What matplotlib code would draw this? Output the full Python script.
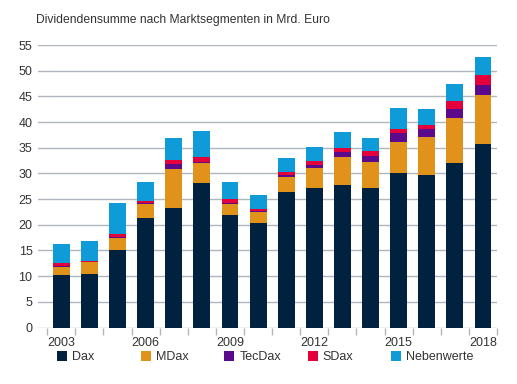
import matplotlib.pyplot as plt
import numpy as np

years = list(range(2003, 2019))
dax = [10.15, 10.4, 15.0, 21.3, 23.2, 28.1, 21.9, 20.4, 26.3, 27.1, 27.8, 27.1, 30.0, 29.6, 32.1, 35.7]
mdax = [1.65, 2.3, 2.5, 2.8, 7.7, 4.0, 2.1, 2.1, 3.0, 4.0, 5.4, 5.1, 6.2, 7.5, 8.6, 9.5]
tecdax = [0.2, 0.1, 0.1, 0.1, 0.85, 0.2, 0.3, 0.1, 0.4, 0.5, 1.0, 1.2, 1.7, 1.5, 1.9, 2.1]
sdax = [0.6, 0.2, 0.6, 0.5, 0.95, 0.95, 0.7, 0.4, 0.6, 0.8, 0.7, 0.9, 0.8, 0.9, 1.5, 1.9]
neben = [3.7, 3.8, 6.0, 3.6, 4.25, 5.0, 3.3, 2.8, 2.7, 2.8, 3.1, 2.6, 4.1, 3.1, 3.4, 3.5]

series = [
    ('Dax', dax, '#00223f'),
    ('MDax', mdax, '#e0921a'),
    ('TecDax', tecdax, '#5c0a8c'),
    ('SDax', sdax, '#e4003a'),
    ('Nebenwerte', neben, '#0f9ad8'),
]

plt.rcParams['font.family'] = ['Liberation Sans', 'DejaVu Sans']
txt = '#333333'

fig = plt.figure(figsize=(5.17, 3.84), dpi=100)
ax = fig.add_axes([0.0735, 0.1471, 0.8878, 0.7357])

bottom = np.zeros(len(years))
bars = []
for name, vals, col in series:
    b = ax.bar(years, vals, bottom=bottom, width=0.6, color=col, label=name, zorder=3)
    bars.append(b)
    bottom += np.array(vals)

ax.set_ylim(0, 55)
ax.set_xlim(2002.17, 2018.5)
ax.set_yticks(range(0, 56, 5))
ax.yaxis.grid(True, color='#b0b6bd', lw=1, zorder=0)
ax.tick_params(axis='y', length=0, pad=4, labelsize=9, labelcolor=txt)

ax.set_xticks(range(2003, 2019, 3))
ax.set_xticks(np.arange(2002.5, 2019, 1), minor=True)
ax.tick_params(axis='x', which='major', length=0, pad=7, labelsize=9, labelcolor=txt)
ax.tick_params(axis='x', which='minor', length=5, width=1, color='#b0b6bd')
for s in ax.spines.values():
    s.set_visible(False)

fig.text(36 / 517, 1 - 20 / 384, 'Dividendensumme nach Marktsegmenten in Mrd. Euro',
         fontsize=8.7, color=txt, va='center', ha='left')

for i, (name, vals, col) in enumerate(series):
    x0 = (51 + i * 83.5) / 517
    fig.legend(handles=[bars[i]], labels=[name], loc='center left',
               bbox_to_anchor=(x0, 1 - 357 / 384), frameon=False, fontsize=9,
               handlelength=0.8, handleheight=0.8, handletextpad=0.4,
               borderpad=0, labelcolor=txt)

fig.savefig('out.png', dpi=100)
